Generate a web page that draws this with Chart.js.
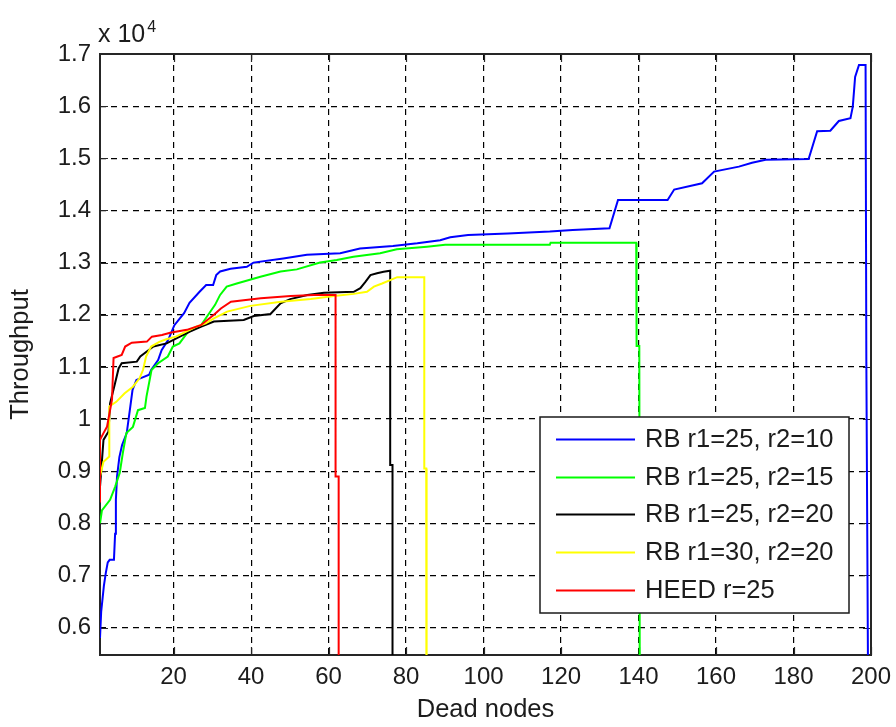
<!DOCTYPE html>
<html>
<head>
<meta charset="utf-8">
<script src="https://cdn.jsdelivr.net/npm/chart.js@4.4.1/dist/chart.umd.min.js"></script>
<style>
  html, body { margin: 0; padding: 0; background: #ffffff; }
  canvas { display: block; }
</style>
</head>
<body>
<canvas id="c" width="896" height="727"></canvas>
<script>
// Tick positions
const xTicks = [20, 40, 60, 80, 100, 120, 140, 160, 180, 200];
const yTicks = [6000, 7000, 8000, 9000, 10000, 11000, 12000, 13000, 14000, 15000, 16000, 17000];

// Series names
const seriesLabels = ['RB r1=25, r2=10', 'RB r1=25, r2=15', 'RB r1=25, r2=20', 'RB r1=30, r2=20', 'HEED r=25'];

// Throughput against number of dead nodes, one x/y pair of arrays per protocol setting
const rb10X = [1, 1.3, 2, 2.5, 3, 3.5, 4.6, 4.9, 5.1, 5.4, 6.0, 6.7, 7.9, 8.7, 9.4, 10.4, 13.7, 14.2, 16.0, 16.9, 18.6, 20.2, 22.7, 24.1, 26.7, 28.4, 30.2, 31.0, 32.0, 34.7, 38.9, 40.6, 48.3, 54.4, 63.0, 68.1, 76.6, 82.9, 88.8, 91.4, 96.0, 106.3, 117.1, 123.0, 132.5, 134.7, 147.5, 149.2, 156.4, 159.5, 165.9, 169.3, 172.8, 183.9, 186.1, 189.5, 191.7, 194.7, 195.3, 195.9, 196.9, 198.6, 198.8, 199.6];
const rb10Y = [5800, 6300, 6800, 7050, 7250, 7300, 7300, 7800, 8450, 8900, 9270, 9500, 9730, 10170, 10560, 10750, 10850, 10940, 11130, 11320, 11520, 11800, 12030, 12230, 12440, 12570, 12570, 12760, 12830, 12880, 12920, 13000, 13080, 13150, 13180, 13270, 13320, 13370, 13430, 13485, 13530, 13560, 13595, 13625, 13657, 14200, 14200, 14400, 14520, 14745, 14840, 14915, 14970, 14985, 15520, 15530, 15715, 15770, 15990, 16560, 16790, 16790, 11100, 0];

const rb15X = [1, 1.5, 3.6, 4.9, 6.1, 6.9, 7.8, 9.5, 10.8, 12.6, 13.0, 14.3, 16.0, 18.5, 19.8, 21.5, 24.1, 26.8, 30.7, 32.0, 33.7, 36.3, 42.4, 47.6, 51.8, 57.8, 62.1, 66.4, 73.3, 77.6, 85.4, 90.1, 117.1, 117.3, 139.4, 139.5, 140.2, 140.4];
const rb15Y = [8000, 8250, 8450, 8700, 8970, 9350, 9730, 9850, 10170, 10210, 10430, 10940, 11070, 11200, 11390, 11450, 11710, 11770, 12190, 12380, 12540, 12600, 12730, 12830, 12870, 13000, 13050, 13110, 13180, 13255, 13305, 13340, 13340, 13382, 13382, 11400, 11400, 0];

const rb20X = [1, 1.9, 3.2, 3.6, 4.9, 5.8, 6.6, 10.5, 11.4, 13.5, 14.8, 18.2, 21.6, 24.2, 27.0, 30.4, 38.1, 40.7, 45.0, 47.6, 50.1, 54.5, 58.8, 66.5, 68.2, 69.5, 70.8, 72.5, 74.2, 75.9, 75.9, 76.5, 76.5];
const rb20Y = [8700, 9600, 9760, 10300, 10690, 10970, 11070, 11100, 11200, 11320, 11390, 11450, 11580, 11675, 11770, 11870, 11900, 11975, 12015, 12220, 12300, 12380, 12420, 12440, 12510, 12630, 12760, 12795, 12825, 12845, 9120, 9120, 0];

const rb30X = [1, 1.9, 3.4, 3.4, 5.2, 7.3, 9.5, 11.2, 12.1, 12.9, 14.2, 16.3, 18.1, 20.6, 23.2, 25.8, 28.3, 30.4, 33.8, 39.8, 47.7, 55.4, 61.4, 66.5, 69.9, 71.7, 73.8, 75.9, 77.7, 84.7, 84.7, 85.2, 85.3];
const rb30Y = [8900, 9180, 9280, 10240, 10330, 10490, 10620, 10780, 10940, 11200, 11390, 11480, 11530, 11580, 11675, 11770, 11835, 11930, 12060, 12170, 12250, 12300, 12360, 12400, 12440, 12540, 12600, 12665, 12720, 12720, 9050, 9050, 0];

const heedX = [1, 1, 1.9, 2.8, 4.1, 4.5, 6.6, 7.5, 9.2, 13.1, 14.4, 17.0, 19.1, 23.4, 27.0, 30.4, 32.2, 34.8, 42.5, 50.2, 56.2, 61.8, 61.8, 62.6, 62.6];
const heedY = [8400, 9600, 9730, 9850, 10370, 11170, 11230, 11390, 11465, 11485, 11580, 11610, 11655, 11710, 11800, 12000, 12120, 12250, 12315, 12360, 12380, 12380, 8900, 8900, 0];

const seriesX = [rb10X, rb15X, rb20X, rb30X, heedX];
const seriesY = [rb10Y, rb15Y, rb20Y, rb30Y, heedY];

// Styling
const lineColors = ['#0000ff', '#00ff00', '#000000', '#ffff00', '#ff0000'];
const textColor = '#1c1c1c';
const fontFamily = '"Liberation Sans", Arial, Helvetica, sans-serif';

const datasets = seriesLabels.map((label, i) => ({
  label,
  data: seriesX[i].map((x, k) => ({ x, y: seriesY[i][k] })),
  borderColor: lineColors[i],
  backgroundColor: lineColors[i],
  borderWidth: 2,
  pointRadius: 0,
  tension: 0,
  fill: false,
  order: seriesLabels.length - i
}));

// Box around the plot, inward tick marks, in-plot legend and the exponent label
const axesDecor = {
  id: 'axesDecor',
  beforeDatasetsDraw(chart) {
    const { ctx, chartArea: a, scales: { x, y } } = chart;
    ctx.save();
    ctx.strokeStyle = '#262626';
    ctx.lineWidth = 1.2;
    ctx.beginPath();
    const L = 8;
    xTicks.forEach(v => {
      const px = Math.round(x.getPixelForValue(v)) + 0.5;
      ctx.moveTo(px, a.bottom); ctx.lineTo(px, a.bottom - L);
      ctx.moveTo(px, a.top); ctx.lineTo(px, a.top + L);
    });
    yTicks.forEach(v => {
      const py = Math.round(y.getPixelForValue(v)) + 0.5;
      ctx.moveTo(a.left, py); ctx.lineTo(a.left + L, py);
      ctx.moveTo(a.right, py); ctx.lineTo(a.right - L, py);
    });
    ctx.stroke();
    ctx.lineWidth = 2;
    ctx.strokeRect(a.left, a.top, a.right - a.left, a.bottom - a.top);
    ctx.restore();
  },
  afterDraw(chart) {
    const { ctx, chartArea: a } = chart;
    ctx.save();
    // legend box
    const bl = a.right - 331, bt = a.top + 363, bw = 309, bh = 196;
    ctx.fillStyle = '#ffffff';
    ctx.fillRect(bl, bt, bw, bh);
    ctx.strokeStyle = '#1a1a1a';
    ctx.lineWidth = 1.5;
    ctx.strokeRect(bl, bt, bw, bh);
    ctx.font = '25.5px ' + fontFamily;
    ctx.textBaseline = 'middle';
    ctx.textAlign = 'left';
    chart.data.datasets.forEach((ds, i) => {
      const cy = bt + 22 + i * 37.7;
      ctx.strokeStyle = ds.borderColor;
      ctx.lineWidth = 2;
      ctx.beginPath();
      ctx.moveTo(bl + 16, Math.round(cy) + 0.5);
      ctx.lineTo(bl + 95, Math.round(cy) + 0.5);
      ctx.stroke();
      ctx.fillStyle = textColor;
      ctx.fillText(ds.label, bl + 105, cy + 1);
    });
    // exponent of the y axis
    ctx.fillStyle = textColor;
    ctx.textBaseline = 'alphabetic';
    ctx.font = '25px ' + fontFamily;
    ctx.fillText('x 10', a.left - 2, a.top - 12);
    const w = ctx.measureText('x 10').width;
    ctx.font = '16px ' + fontFamily;
    ctx.fillText('4', a.left - 2 + w + 2, a.top - 22);
    ctx.restore();
  }
};

new Chart(document.getElementById('c'), {
  type: 'line',
  data: { datasets },
  options: {
    responsive: false,
    animation: false,
    events: [],
    layout: { padding: { top: 54, right: 25, left: 0, bottom: 0 } },
    scales: {
      x: {
        type: 'linear',
        min: 1,
        max: 200,
        afterBuildTicks: s => { s.ticks = xTicks.map(v => ({ value: v })); },
        afterFit: s => { s.height = 72; s.paddingLeft = 0; s.paddingRight = 0; },
        grid: { color: '#000000', lineWidth: 1.2, drawTicks: false },
        border: { display: false, dash: [6, 5] },
        ticks: { color: textColor, font: { family: fontFamily, size: 24 }, padding: 8, maxRotation: 0, callback: v => String(v) },
        title: { display: true, text: 'Dead nodes', color: textColor, font: { family: fontFamily, size: 25.5 }, padding: { top: 0, bottom: 2 } }
      },
      y: {
        type: 'linear',
        min: 5475,
        max: 17000,
        afterBuildTicks: s => { s.ticks = yTicks.map(v => ({ value: v })); },
        afterFit: s => { s.width = 100; s.paddingTop = 0; s.paddingBottom = 0; },
        grid: { color: '#000000', lineWidth: 1.2, drawTicks: false },
        border: { display: false, dash: [6, 5] },
        ticks: { color: textColor, font: { family: fontFamily, size: 24 }, padding: 9, callback: v => String(Math.round(v / 100) / 100) },
        title: { display: true, text: 'Throughput', color: textColor, font: { family: fontFamily, size: 25.5 }, padding: { top: 6, bottom: 0 } }
      }
    },
    plugins: {
      legend: { display: false },
      tooltip: { enabled: false }
    }
  },
  plugins: [axesDecor]
});
</script>
</body>
</html>
